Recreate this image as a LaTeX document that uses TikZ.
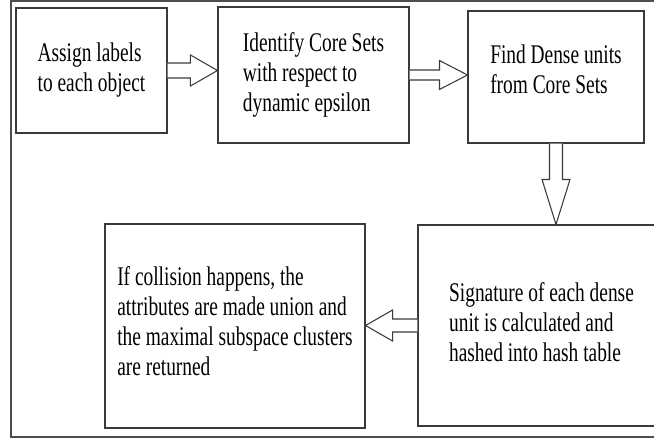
\documentclass[tikz,border=0pt]{standalone}
\usepackage{fontspec}
\setmainfont{Liberation Serif}[FakeStretch=0.72]
\usetikzlibrary{calc}
\definecolor{lineGray}{HTML}{3A3A3A}
\definecolor{frameGray}{HTML}{4D4D4D}

\begin{document}
\begin{tikzpicture}[x=0.03cm, y=-0.03cm,
    caja/.style={draw=lineGray, line width=0.9pt, align=left, inner sep=0pt,
                 font=\fontsize{23}{25.6}\selectfont},
    blk/.style={draw=lineGray, line width=0.9pt, fill=white, line join=miter}]
  \useasboundingbox (0,0) rectangle (654,439);
  \draw[frameGray, line width=1.6pt] (11,1) rectangle (680,437);
  \node[caja, minimum width=4.53cm, minimum height=3.75cm] (a) at (91.5,70.5)
       {Assign labels\\to each object};
  \node[caja, minimum width=5.73cm, minimum height=4.08cm] (b) at (313.5,75)
       {Identify Core Sets\\with respect to\\dynamic epsilon};
  \node[caja, minimum width=5.28cm, minimum height=3.96cm, text depth=0.5cm] (c) at (556,77)
       {Find Dense units\\from Core Sets};
  \node[caja, minimum width=7.41cm, minimum height=6.03cm, text depth=0.22cm] (e) at (541.5,325.5)
       {Signature of each dense\\unit is calculated and\\hashed into hash table};
  \node[caja, minimum width=7.8cm, minimum height=6.12cm, text depth=0.3cm] (d) at (235,326)
       {If collision happens, the\\attributes are made union and\\the maximal subspace clusters\\are returned};
  % hollow block arrows between the boxes
  \draw[blk] ($(a.east)+(0,-7.5)$) -- ($(a.east -| b.west)+(-27,-7.5)$)
       -- ($(a.east -| b.west)+(-27,-15.5)$) -- (a.east -| b.west)
       -- ($(a.east -| b.west)+(-27,15.5)$) -- ($(a.east -| b.west)+(-27,7.5)$)
       -- ($(a.east)+(0,7.5)$);
  \draw[blk] ($(b.east)+(0,-5)$) -- ($(b.east -| c.west)+(-28,-5)$)
       -- ($(b.east -| c.west)+(-28,-14.5)$) -- (b.east -| c.west)
       -- ($(b.east -| c.west)+(-28,14.5)$) -- ($(b.east -| c.west)+(-28,5)$)
       -- ($(b.east)+(0,5)$);
  \draw[blk] ($(c.south)+(-6.5,0)$) -- ($(c.south |- e.north)+(-6.5,-45)$)
       -- ($(c.south |- e.north)+(-14,-45)$) -- (c.south |- e.north)
       -- ($(c.south |- e.north)+(14,-45)$) -- ($(c.south |- e.north)+(6.5,-45)$)
       -- ($(c.south)+(6.5,0)$);
  \draw[blk] ($(e.west)+(0,-6.5)$) -- ($(e.west -| d.east)+(27,-6.5)$)
       -- ($(e.west -| d.east)+(27,-15.5)$) -- (e.west -| d.east)
       -- ($(e.west -| d.east)+(27,15.5)$) -- ($(e.west -| d.east)+(27,6.5)$)
       -- ($(e.west)+(0,6.5)$);
\end{tikzpicture}
\end{document}
